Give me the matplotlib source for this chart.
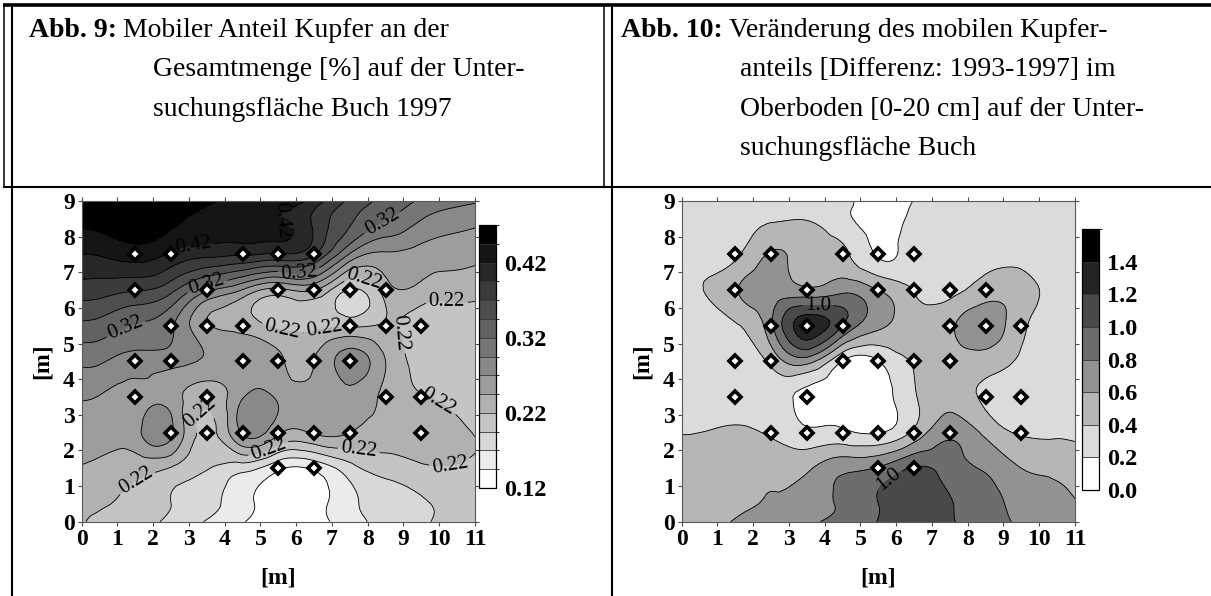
import numpy as np
import matplotlib
matplotlib.use("Agg")
import matplotlib.pyplot as plt
import matplotlib.tri as mtri
from matplotlib.colors import ListedColormap, BoundaryNorm
from matplotlib.lines import Line2D

plt.rcParams['font.family'] = ['Liberation Serif', 'DejaVu Serif']

W, H = 1211, 596

# grid nodes [m], rows from top (y=9) to bottom (y=0)
grid_x = [0, 0.5, 1.5, 2.5, 3.5, 4.5, 5.5, 6.5, 7.5, 8.5, 9.5, 10.5, 11]
grid_y = [9, 8.5, 7.5, 6.5, 5.5, 4.5, 3.5, 2.5, 1.5, 0.5, 0]

# Abb. 9: mobiler Anteil Kupfer [%] 1997
cu_1997 = [
    [0.462, 0.462, 0.462, 0.460, 0.450, 0.435, 0.428, 0.410, 0.365, 0.338, 0.316, 0.302, 0.298],
    [0.452, 0.455, 0.460, 0.452, 0.437, 0.428, 0.421, 0.390, 0.350, 0.322, 0.296, 0.282, 0.278],
    [0.420, 0.422, 0.432, 0.416, 0.402, 0.398, 0.392, 0.372, 0.292, 0.266, 0.260, 0.255, 0.252],
    [0.383, 0.381, 0.372, 0.352, 0.300, 0.268, 0.238, 0.246, 0.192, 0.232, 0.236, 0.229, 0.227],
    [0.340, 0.336, 0.318, 0.300, 0.248, 0.236, 0.214, 0.212, 0.216, 0.222, 0.210, 0.212, 0.214],
    [0.300, 0.298, 0.284, 0.280, 0.266, 0.262, 0.250, 0.245, 0.282, 0.245, 0.212, 0.208, 0.208],
    [0.272, 0.269, 0.262, 0.258, 0.228, 0.268, 0.266, 0.258, 0.262, 0.238, 0.222, 0.212, 0.208],
    [0.258, 0.258, 0.262, 0.274, 0.212, 0.274, 0.250, 0.248, 0.245, 0.233, 0.236, 0.226, 0.219],
    [0.243, 0.238, 0.228, 0.218, 0.197, 0.180, 0.150, 0.150, 0.185, 0.205, 0.215, 0.217, 0.214],
    [0.224, 0.222, 0.212, 0.195, 0.178, 0.155, 0.128, 0.135, 0.163, 0.183, 0.193, 0.198, 0.199],
    [0.221, 0.217, 0.205, 0.190, 0.168, 0.147, 0.125, 0.135, 0.158, 0.180, 0.193, 0.198, 0.199],
]

# Abb. 10: Differenz 1993-1997
cu_diff = [
    [0.30, 0.30, 0.30, 0.32, 0.33, 0.25, 0.10, 0.205, 0.28, 0.30, 0.30, 0.30, 0.30],
    [0.30, 0.30, 0.32, 0.37, 0.39, 0.25, 0.12, 0.24, 0.30, 0.30, 0.30, 0.30, 0.30],
    [0.30, 0.33, 0.36, 0.62, 0.52, 0.45, 0.18, 0.30, 0.30, 0.33, 0.33, 0.30, 0.30],
    [0.30, 0.38, 0.58, 0.72, 0.65, 0.75, 0.60, 0.39, 0.34, 0.50, 0.48, 0.33, 0.30],
    [0.25, 0.28, 0.38, 0.75, 1.32, 1.00, 0.65, 0.48, 0.56, 0.72, 0.45, 0.30, 0.28],
    [0.25, 0.26, 0.30, 0.45, 0.68, 0.19, 0.19, 0.42, 0.48, 0.50, 0.37, 0.30, 0.28],
    [0.28, 0.30, 0.32, 0.28, 0.15, 0.08, 0.08, 0.38, 0.50, 0.37, 0.30, 0.30, 0.30],
    [0.395, 0.40, 0.43, 0.37, 0.24, 0.24, 0.19, 0.45, 0.75, 0.55, 0.38, 0.37, 0.37],
    [0.45, 0.47, 0.52, 0.56, 0.57, 0.75, 0.82, 1.02, 0.90, 0.78, 0.60, 0.55, 0.50],
    [0.50, 0.52, 0.57, 0.61, 0.70, 0.83, 1.00, 1.15, 1.02, 0.88, 0.73, 0.64, 0.61],
    [0.52, 0.54, 0.61, 0.66, 0.76, 0.86, 1.01, 1.18, 1.03, 0.90, 0.76, 0.66, 0.62],
]

# sampling points (diamonds)
sample_x = [1.5, 2.5, 4.5, 5.5, 6.5,
            1.5, 3.5, 5.5, 6.5, 7.5, 8.5,
            2.5, 3.5, 4.5, 7.5, 8.5, 9.5,
            1.5, 2.5, 4.5, 5.5, 6.5, 7.5,
            1.5, 3.5, 8.5, 9.5,
            2.5, 3.5, 4.5, 5.5, 6.5, 7.5, 9.5,
            5.5, 6.5]
sample_y = [7.5] * 5 + [6.5] * 6 + [5.5] * 6 + [4.5] * 6 + [3.5] * 4 + [2.5] * 7 + [1.5] * 2

levels_9 = np.round(np.arange(0.12, 0.4701, 0.025), 3)
ticks_9 = [0.12, 0.22, 0.32, 0.42]
levels_10 = np.round(np.arange(0.0, 1.601, 0.2), 1)
ticks_10 = [0.0, 0.2, 0.4, 0.6, 0.8, 1.0, 1.2, 1.4]

labels_9 = [(3.1, 8.05), (5.65, 8.5), (8.36, 8.5), (6.07, 7.1), (3.45, 6.84),
            (1.2, 5.5), (5.65, 5.65), (7.8, 6.6), (10.2, 6.0), (6.87, 4.92),
            (8.77, 5.24), (9.85, 3.14), (3.27, 3.09), (5.28, 1.92), (7.75, 1.78),
            (10.3, 1.6), (1.59, 1.03)]
labels_10 = [(3.8, 6.0), (5.84, 1.07)]


def fx(px):
    return px / W


def fy(py):
    return 1 - py / H


def gray_cmap(n):
    return ListedColormap([str(1 - k / (n - 1)) for k in range(n)])


def draw_map(fig, rect, crect, z, levels, ticks, cb_fmt, lab_levels, lab_fmt, lab_pos):
    ax = fig.add_axes(rect)
    X, Y = np.meshgrid(grid_x, grid_y)
    triang = mtri.Triangulation(X.ravel(), Y.ravel())
    tri_f, z_f = mtri.UniformTriRefiner(triang).refine_field(np.ravel(z), subdiv=3)
    z_f = np.clip(z_f, levels[0] + 1e-4, levels[-1] - 1e-4)
    n = len(levels) - 1
    cmap = gray_cmap(n)
    norm = BoundaryNorm(levels, n)
    cf = ax.tricontourf(tri_f, z_f, levels=levels, cmap=cmap, norm=norm)
    plain = [l for l in levels if min(abs(l - m) for m in lab_levels) > 1e-6]
    ax.tricontour(tri_f, z_f, levels=plain, colors='black', linewidths=0.6)
    cs = ax.tricontour(tri_f, z_f, levels=lab_levels, colors='black', linewidths=0.6)
    ax.clabel(cs, fmt=lab_fmt, fontsize=15, manual=lab_pos, inline=True,
              inline_spacing=3)
    ax.plot(sample_x, sample_y, 'D', ls='none', ms=5.8, mfc='white',
            mec='black', mew=2.6, zorder=5)
    ax.set_xlim(0, 11)
    ax.set_ylim(0, 9)
    ax.set_xticks(range(12))
    ax.set_yticks(range(10))
    ax.tick_params(direction='out', length=3, width=0.8, color='0.3',
                   top=True, right=True, labelsize=17, pad=2)
    for t in ax.get_xticklabels() + ax.get_yticklabels():
        t.set_fontweight('bold')
    for s in ax.spines.values():
        s.set_linewidth(0.8)
        s.set_color('0.35')

    cax = fig.add_axes(crect)
    cb = fig.colorbar(cf, cax=cax, ticks=ticks, drawedges=True)
    cb.outline.set_linewidth(0.9)
    cb.outline.set_edgecolor('black')
    cb.dividers.set_linewidth(0.6)
    cb.dividers.set_color('0.2')
    cax.set_yticklabels([cb_fmt % t for t in ticks])
    cax.tick_params(length=0, pad=6, labelsize=17.5)
    for t in cax.get_yticklabels():
        t.set_fontweight('bold')
    return ax


fig = plt.figure(figsize=(W / 100, H / 100), dpi=100)
renderer = fig.canvas.get_renderer()


def hline(x0, x1, y, lw):
    fig.add_artist(Line2D([fx(x0), fx(x1)], [fy(y), fy(y)], color='black', lw=lw,
                          transform=fig.transFigure, solid_capstyle='butt'))


def vline(x, y0, y1, lw):
    fig.add_artist(Line2D([fx(x), fx(x)], [fy(y0), fy(y1)], color='black', lw=lw,
                          transform=fig.transFigure, solid_capstyle='butt'))


# table frame
hline(2.5, W, 5, 2.6)
hline(2.5, W, 187, 1.5)
vline(3.5, 4, 187, 1.1)
vline(11.5, 4, H, 1.5)
vline(603.5, 4, 187, 1.1)
vline(611.5, 4, H, 1.5)

# captions
cap_size = 20


def caption(x, indent, y0, step, head, lines):
    t = fig.text(fx(x), fy(y0), head, fontsize=cap_size, fontweight='bold', va='baseline')
    x_rest = t.get_window_extent(renderer).x1 + 6
    fig.text(fx(x_rest), fy(y0), lines[0], fontsize=cap_size, va='baseline')
    for i, s in enumerate(lines[1:], start=1):
        fig.text(fx(indent), fy(y0 + i * step), s, fontsize=cap_size, va='baseline')


caption(29, 153, 37, 39.3, "Abb. 9:",
        ["Mobiler Anteil Kupfer an der",
         "Gesamtmenge [%] auf der Unter-",
         "suchungsfläche Buch 1997"])
caption(621, 740, 37, 39.3, "Abb. 10:",
        ["Veränderung des mobilen Kupfer-",
         "anteils [Differenz: 1993-1997] im",
         "Oberboden [0-20 cm] auf der Unter-",
         "suchungsfläche Buch"])

# maps
ax_w = 393.3 / W
ax_h = 320.7 / H
ax_b = fy(521.7)
draw_map(fig, [fx(81.7), ax_b, ax_w, ax_h],
         [fx(479), fy(488), 17 / W, 263 / H],
         cu_1997, levels_9, ticks_9, '%.2f', [0.22, 0.32, 0.42], '%.2f', labels_9)
draw_map(fig, [fx(681.7), ax_b, ax_w, ax_h],
         [fx(1082), fy(490), 16.5 / W, 261 / H],
         cu_diff, levels_10, ticks_10, '%.1f', [1.0], '%.1f', labels_10)

for xc, yc in [(42, 361), (642, 361)]:
    fig.text(fx(xc), fy(yc), "[m]", fontsize=17, fontweight='bold', rotation=90,
             ha='center', va='center')
for xc in [278, 878]:
    fig.text(fx(xc), fy(578), "[m]", fontsize=17, fontweight='bold',
             ha='center', va='center')

fig.savefig("out.png", dpi=100)
